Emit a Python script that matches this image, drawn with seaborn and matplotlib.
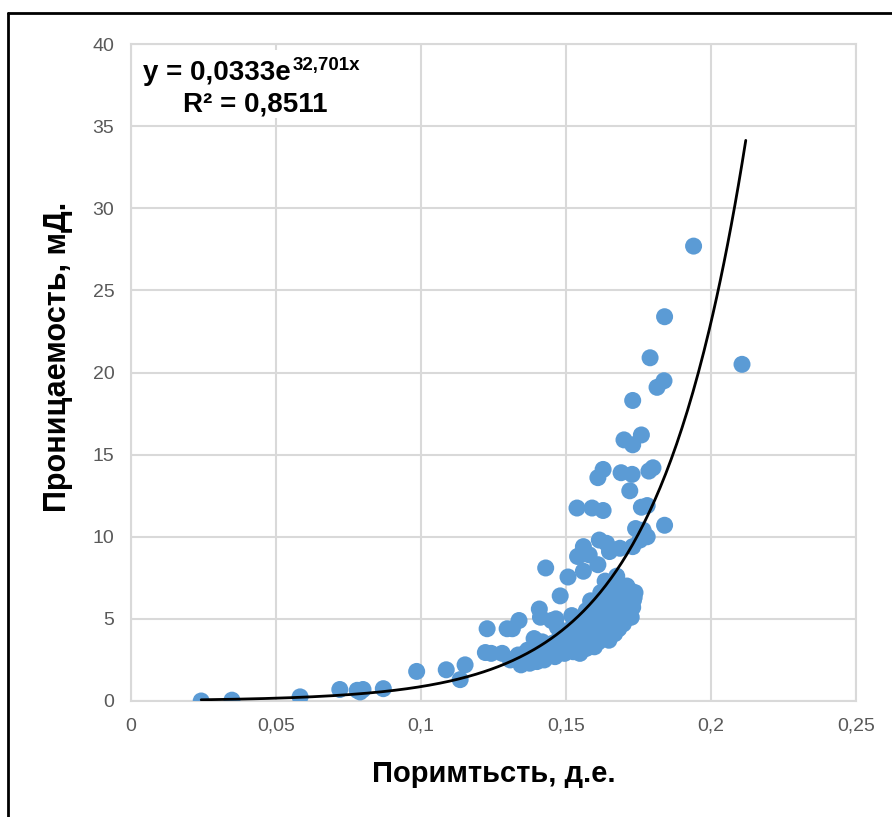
import numpy as np
import pandas as pd
import seaborn as sns
import matplotlib.pyplot as plt
from matplotlib.lines import Line2D
from matplotlib.patches import Rectangle
from matplotlib.ticker import FuncFormatter

# Daten
porosity = [
    0.0242, 0.0348, 0.0583, 0.072, 0.078, 0.079, 0.080, 0.087, 0.0985, 0.1087,
    0.1135, 0.1152, 0.1222, 0.1228, 0.1242, 0.128, 0.1297, 0.1315, 0.1308, 0.1325,
    0.1338, 0.1345, 0.1355, 0.137, 0.1375, 0.139, 0.140, 0.1408, 0.1412, 0.1418,
    0.1425, 0.143, 0.1435, 0.1445, 0.145, 0.146, 0.1465, 0.147, 0.148, 0.148,
    0.149, 0.1495, 0.150, 0.1507, 0.151, 0.152, 0.1525, 0.153, 0.1538, 0.154,
    0.1545, 0.155, 0.155, 0.1555, 0.156, 0.156, 0.1565, 0.157, 0.157, 0.1575,
    0.158, 0.158, 0.1585, 0.159, 0.159, 0.1595, 0.160, 0.1605, 0.161, 0.161,
    0.161, 0.1615, 0.162, 0.162, 0.1625, 0.1628, 0.1628, 0.163, 0.163, 0.1635,
    0.164, 0.164, 0.1645, 0.165, 0.165, 0.1655, 0.166, 0.166, 0.1665, 0.167,
    0.167, 0.1675, 0.168, 0.168, 0.1686, 0.1686, 0.169, 0.169, 0.1695, 0.170,
    0.170, 0.171, 0.1715, 0.172, 0.172, 0.172, 0.173, 0.1728, 0.173, 0.173,
    0.173, 0.1735, 0.174, 0.1755, 0.1766, 0.176, 0.176, 0.178, 0.178, 0.1786,
    0.179, 0.180, 0.1814, 0.1838, 0.184, 0.184, 0.194, 0.2107,
    0.1415, 0.1438, 0.1452, 0.1462, 0.1478, 0.1488, 0.1502, 0.1512, 0.1518, 0.1532,
    0.1542, 0.1548, 0.1562, 0.1568, 0.1578, 0.1582, 0.1592, 0.1598, 0.1602, 0.1612,
    0.1618, 0.1622, 0.1632, 0.1638, 0.1642, 0.1648, 0.1652, 0.1658, 0.1662, 0.1668,
    0.1672, 0.1678, 0.1682, 0.1688, 0.1692, 0.1698, 0.1702, 0.1708, 0.1712, 0.1718,
    0.1722, 0.1725, 0.1732, 0.1738, 0.1368, 0.1388, 0.1398, 0.1402, 0.1375, 0.1358,
    0.1335,
]
permeability = [
    0.0, 0.05, 0.25, 0.7, 0.65, 0.55, 0.7, 0.75, 1.8, 1.9,
    1.3, 2.2, 2.95, 4.4, 2.9, 2.9, 4.4, 4.4, 2.5, 2.6,
    4.9, 2.2, 2.5, 2.8, 3.0, 3.8, 2.4, 5.6, 5.1, 3.6,
    2.5, 8.1, 2.8, 3.3, 4.9, 3.0, 5.0, 4.5, 6.4, 3.1,
    3.6, 2.9, 4.1, 7.55, 3.4, 5.2, 3.0, 3.8, 11.75, 8.8,
    3.3, 4.6, 8.9, 3.6, 9.4, 7.9, 4.0, 3.2, 5.5, 4.3,
    8.9, 3.6, 6.1, 11.75, 4.8, 3.9, 3.5, 5.7, 13.6, 8.3,
    4.2, 9.8, 3.8, 6.6, 4.9, 14.1, 11.6, 5.2, 4.0, 7.3,
    4.5, 9.6, 5.8, 4.2, 9.1, 6.2, 5.0, 4.4, 6.9, 5.4,
    4.6, 7.6, 5.9, 4.9, 9.3, 6.9, 13.9, 5.2, 6.4, 15.9,
    5.6, 7.0, 5.1, 12.8, 6.75, 5.9, 18.3, 13.8, 15.6, 9.4,
    5.7, 6.3, 10.5, 9.8, 10.4, 16.2, 11.8, 11.9, 10.0, 14.0,
    20.9, 14.2, 19.1, 19.5, 23.4, 10.7, 27.7, 20.5,
    2.6, 3.0, 3.5, 2.7, 3.9, 3.3, 3.1, 3.7, 4.4, 3.5,
    4.1, 2.9, 3.4, 4.8, 3.9, 5.0, 4.4, 3.3, 4.6, 3.6,
    5.3, 4.3, 3.9, 5.6, 4.8, 3.7, 5.5, 4.7, 6.0, 4.1,
    5.1, 6.5, 4.4, 5.6, 6.1, 4.7, 6.7, 5.3, 6.2, 5.6,
    6.5, 5.1, 6.1, 6.6, 3.1, 2.7, 3.2, 2.9, 2.3, 2.9,
    2.8,
]

# Trendlinie: y = a * exp(b * x)
trend_a = 0.0333
trend_b = 32.701
trend_range = [0.0242, 0.212]

x_ticks = [0, 0.05, 0.1, 0.15, 0.2, 0.25]
y_ticks = [0, 5, 10, 15, 20, 25, 30, 35, 40]

df = pd.DataFrame({"x": porosity, "y": permeability})
tx = np.linspace(trend_range[0], trend_range[1], 300)
trend = pd.DataFrame({"x": tx, "y": trend_a * np.exp(trend_b * tx)})

sns.set_style("white")
plt.rcParams["font.family"] = ["Liberation Sans", "DejaVu Sans"]
plt.rcParams["text.color"] = "black"

fig = plt.figure(figsize=(8.92, 8.17), dpi=100)
ax = fig.add_axes([0.1469, 0.142, 0.8127, 0.804])

sns.scatterplot(data=df, x="x", y="y", ax=ax, color="#5B9BD5", s=150,
                edgecolor="none", zorder=3)
sns.lineplot(data=trend, x="x", y="y", ax=ax, color="black", linewidth=2, zorder=4)

ax.set_xlim(0, 0.25)
ax.set_ylim(0, 40)
ax.set_xticks(x_ticks)
ax.set_yticks(y_ticks)
ax.xaxis.set_major_formatter(FuncFormatter(lambda v, p: f"{v:g}".replace(".", ",")))
ax.yaxis.set_major_formatter(FuncFormatter(lambda v, p: f"{v:g}"))
ax.grid(True, color="#D9D9D9", linewidth=1.5, zorder=0)
ax.set_axisbelow(True)
for s in ax.spines.values():
    s.set_color("#D9D9D9")
    s.set_linewidth(1.5)
ax.tick_params(axis="both", length=0, labelsize=14, labelcolor="#595959", pad=12)

ax.set_xlabel("Поримтьсть, д.е.", fontsize=21, fontweight="bold", color="black", labelpad=18)
ax.set_ylabel("Проницаемость, мД.", fontsize=22, fontweight="bold", color="black")
ax.yaxis.set_label_coords(-0.08, 0.524)

# Gleichung der Trendlinie mit weissem Hintergrund
ax.add_patch(Rectangle((0.008, 0.887), 0.377, 0.104, transform=ax.transAxes,
                       facecolor="white", edgecolor="none", zorder=5))
eq = ax.text(0.017, 0.945, "y = 0,0333e", transform=ax.transAxes, fontsize=20,
             fontweight="bold", color="black", ha="left", va="baseline", zorder=6)
ax.annotate("32,701x", xy=(1, 1), xycoords=eq, xytext=(1, 2), textcoords="offset points",
            fontsize=13.5, fontweight="bold", color="black", ha="left", va="top", zorder=6)
ax.text(0.171, 0.908, "R² = 0,8511", transform=ax.transAxes, fontsize=20,
        fontweight="bold", color="black", ha="center", va="center", zorder=6)

# Rahmen links und oben
fig.add_artist(Line2D([8 / 892, 8 / 892], [0, 1 - 13 / 817], color="black", linewidth=2,
                      transform=fig.transFigure))
fig.add_artist(Line2D([8 / 892, 1], [1 - 13 / 817, 1 - 13 / 817], color="black", linewidth=2,
                      transform=fig.transFigure))

plt.savefig("out.png", dpi=100)
